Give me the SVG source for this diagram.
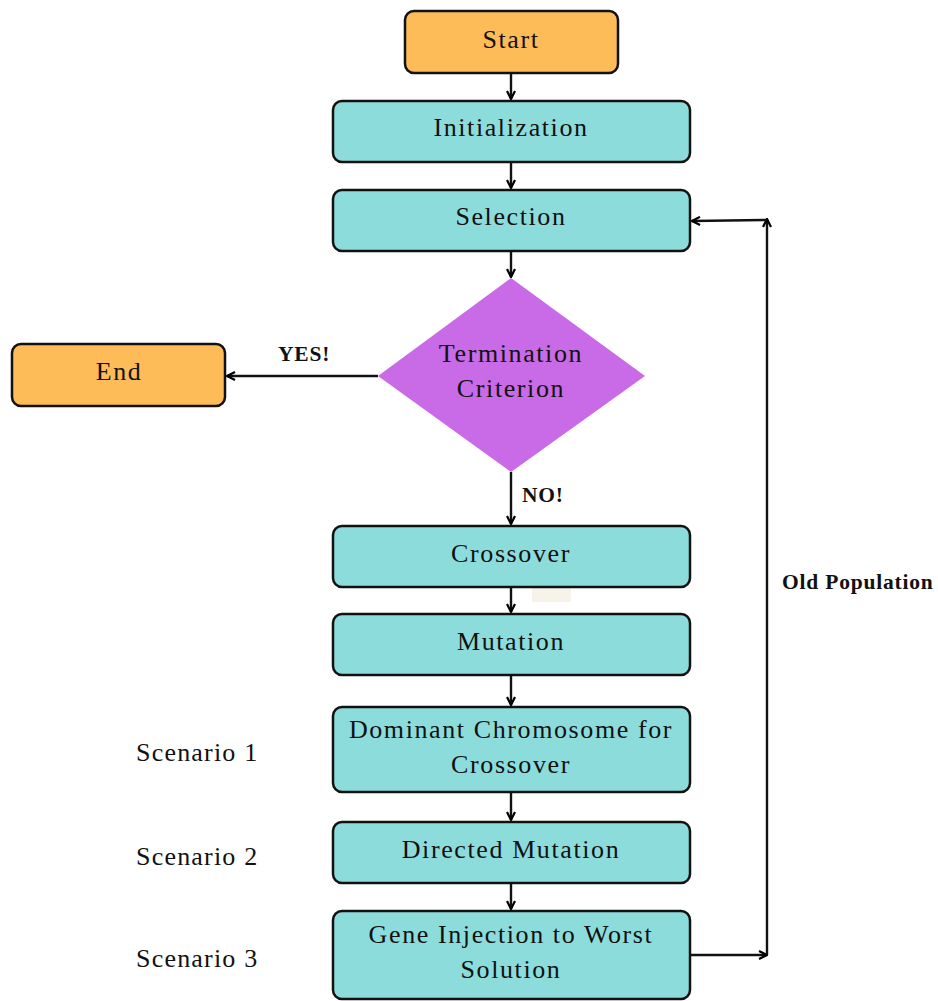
<svg xmlns="http://www.w3.org/2000/svg" width="938" height="1001" viewBox="0 0 938 1001">
<defs>
<marker id="ah" viewBox="0 0 10 10" refX="9" refY="5" markerWidth="10" markerHeight="10" markerUnits="userSpaceOnUse" orient="auto">
<path d="M1,1 L9,5 L1,9" fill="none" stroke="#000" stroke-width="2.2"/>
</marker>
<style>
.term{fill:#fdbc58;stroke:#111;stroke-width:2.5}
.proc{fill:#8ddcdc;stroke:#111;stroke-width:2.5}
.t{font-family:"Liberation Serif","Times New Roman",serif;font-size:26px;letter-spacing:1.6px;fill:#111;text-anchor:middle}
.lbl{font-family:"Liberation Serif","Times New Roman",serif;font-size:21.5px;letter-spacing:0.8px;font-weight:bold;fill:#111}
.sc{font-family:"Liberation Serif","Times New Roman",serif;font-size:26px;letter-spacing:1.2px;fill:#111}
.c{fill:none;stroke:#111;stroke-width:2.4;marker-end:url(#ah)}
</style>
</defs>
<rect x="532" y="588" width="39" height="14" fill="#f8f3ea"/>
<g id="connectors">
<line class="c" x1="511" y1="74" x2="511" y2="99"/>
<line class="c" x1="511" y1="163" x2="511" y2="188"/>
<line class="c" x1="511" y1="252" x2="511" y2="277"/>
<line class="c" x1="378" y1="376" x2="227" y2="376"/>
<line class="c" x1="511" y1="472" x2="511" y2="524"/>
<line class="c" x1="511" y1="588" x2="511" y2="612"/>
<line class="c" x1="511" y1="676" x2="511" y2="705"/>
<line class="c" x1="511" y1="793" x2="511" y2="820"/>
<line class="c" x1="511" y1="884" x2="511" y2="909"/>
<line class="c" x1="691" y1="955" x2="767" y2="955"/>
<line class="c" x1="767" y1="955" x2="767" y2="219"/>
<line class="c" x1="767" y1="220" x2="692" y2="221"/>
<text class="lbl" x="278" y="361">YES!</text>
<text class="lbl" x="522" y="502">NO!</text>
<text class="lbl" x="782" y="589">Old Population</text>
</g>
<g id="start"><rect class="term" x="405" y="11" width="213" height="62" rx="9"/><text class="t" x="511" y="48">Start</text></g>
<g id="init"><rect class="proc" x="333" y="101" width="357" height="61" rx="9"/><text class="t" x="511" y="136">Initialization</text></g>
<g id="selection"><rect class="proc" x="333" y="190" width="357" height="61" rx="9"/><text class="t" x="511" y="225">Selection</text></g>
<g id="termination"><polygon points="511,278 645,376 511,472 378,376" fill="#c96ae6"/><text class="t" x="511" y="362">Termination</text><text class="t" x="511" y="397">Criterion</text></g>
<g id="end"><rect class="term" x="12" y="344" width="213" height="62" rx="9"/><text class="t" x="119" y="380">End</text></g>
<g id="crossover"><rect class="proc" x="333" y="526" width="357" height="61" rx="9"/><text class="t" x="511" y="562">Crossover</text></g>
<g id="mutation"><rect class="proc" x="333" y="614" width="357" height="61" rx="9"/><text class="t" x="511" y="650">Mutation</text></g>
<g id="dominant"><rect class="proc" x="333" y="707" width="357" height="85" rx="9"/><text class="t" x="511" y="738">Dominant Chromosome for</text><text class="t" x="511" y="773">Crossover</text></g>
<g id="directed"><rect class="proc" x="333" y="822" width="357" height="61" rx="9"/><text class="t" x="511" y="858">Directed Mutation</text></g>
<g id="gene"><rect class="proc" x="333" y="911" width="357" height="88" rx="9"/><text class="t" x="511" y="943">Gene Injection to Worst</text><text class="t" x="511" y="978">Solution</text></g>
<g id="scenarios">
<text class="sc" x="136" y="761">Scenario 1</text>
<text class="sc" x="136" y="865">Scenario 2</text>
<text class="sc" x="136" y="967">Scenario 3</text>
</g>
</svg>
